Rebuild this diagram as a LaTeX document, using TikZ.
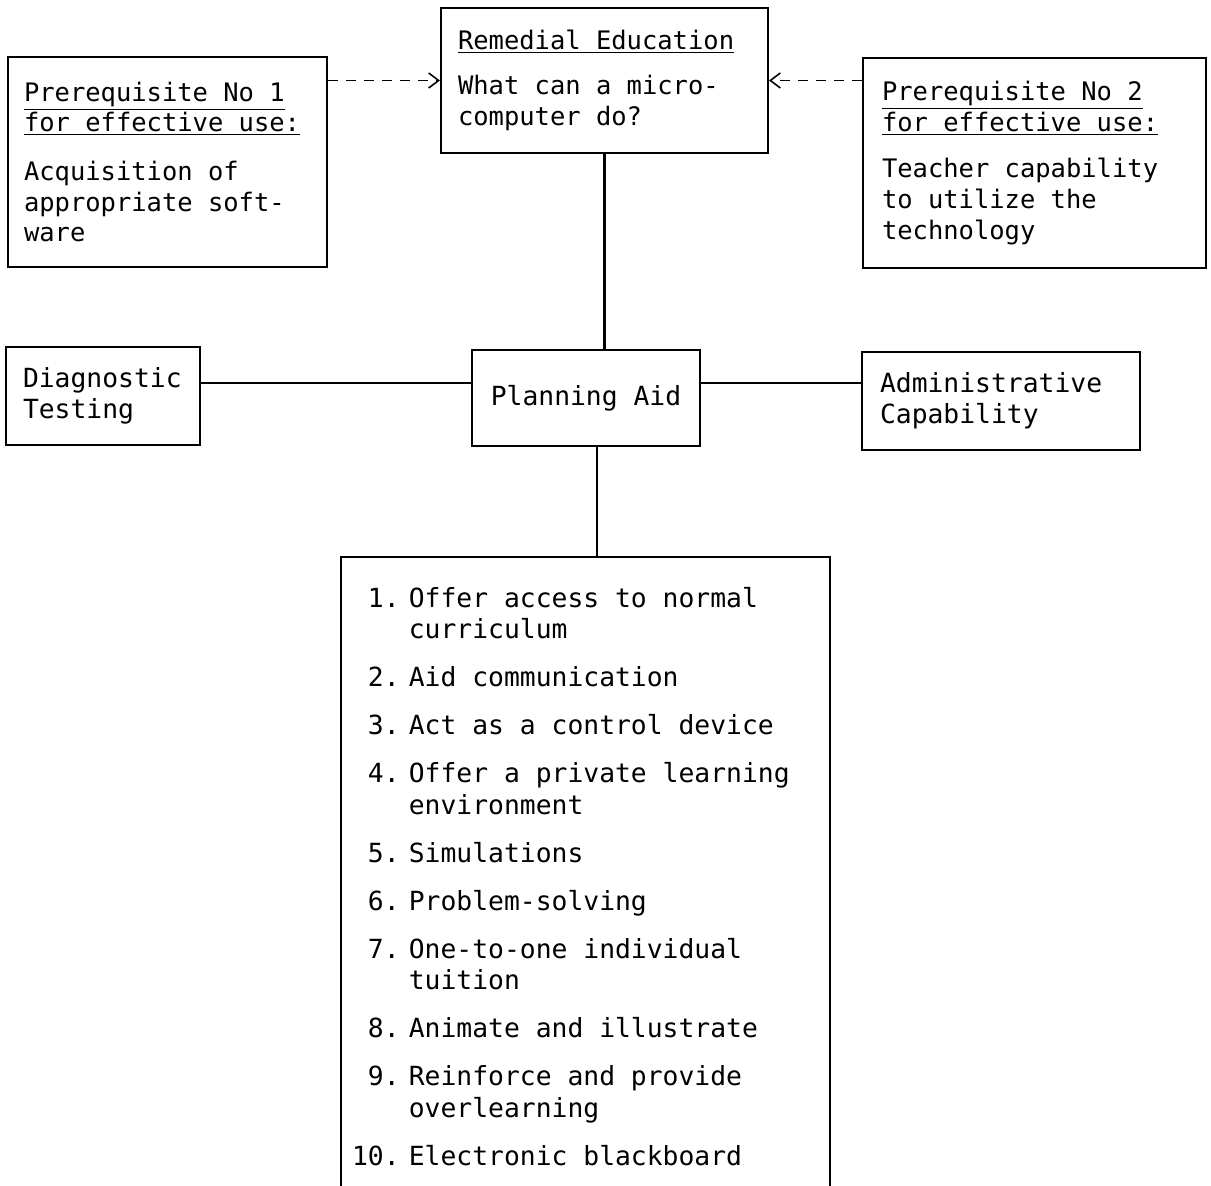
\documentclass[tikz,border=0pt]{standalone}
\usepackage{fontspec}
\setmainfont{DejaVu Sans Mono}[WordSpace={1,0,0}]
\usetikzlibrary{arrows.meta}

\begin{document}
\begin{tikzpicture}[x=0.02cm, y=-0.02cm,
  box/.style={draw, rectangle, line width=1.2pt, inner ysep=0pt, align=left,
    execute at begin node={\spaceskip=0.602em\relax}},
  small/.style={font=\fontsize{14.5}{17.5}\selectfont},
  big/.style={font=\fontsize{15}{17.5}\selectfont},
  link/.style={line width=1.2pt},
  dashlink/.style={line width=0.9pt, dash pattern=on 0.2cm off 0.16cm,
    -{Straight Barb[length=0.2cm,width=0.3cm]}}]
\useasboundingbox (0,0) rectangle (1211,1186);

\node[box, small, text width=5.74cm, inner xsep=0.32cm, minimum height=4.2cm] (P1) at (167.5,162)
{\underline{Prerequisite No 1}\\ \underline{for effective use:}\\[10pt] Acquisition of\\ appropriate soft-\\ ware};%
\node[box, small, text width=5.86cm, inner xsep=0.34cm, minimum height=2.9cm] (RE) at (604.5,80.5)
{\underline{Remedial Education}\\[8pt] What can a micro-\\ computer do?};%
\node[box, small, text width=6.1cm, inner xsep=0.38cm, minimum height=4.2cm] (P2) at (1034.5,163)
{\underline{Prerequisite No 2}\\ \underline{for effective use:}\\[9pt] Teacher capability\\ to utilize the\\ technology};%
\node[box, big, text width=3.2cm, inner xsep=0.34cm, minimum height=1.96cm] (DT) at (103,396)
{Diagnostic\\ Testing};%
\node[box, big, align=center, minimum width=4.56cm, minimum height=1.92cm] (PA) at (586,398)
{Planning Aid};%
\node[box, big, text width=4.84cm, inner xsep=0.36cm, minimum height=1.96cm] (AC) at (1001,401)
{Administrative\\ Capability};%
\node[box, font=\fontsize{15}{18}\selectfont, text width=9.34cm, inner xsep=0.22cm, inner ysep=0.56cm, anchor=north] (LB) at (585.5,556)
{\begin{tabular}{@{}r@{\hspace{0.35em}}l@{}}
1. & Offer access to normal\\ & curriculum\\[9.3pt]
2. & Aid communication\\[9.3pt]
3. & Act as a control device\\[9.3pt]
4. & Offer a private learning\\ & environment\\[9.3pt]
5. & Simulations\\[9.3pt]
6. & Problem-solving\\[9.3pt]
7. & One-to-one individual\\ & tuition\\[9.3pt]
8. & Animate and illustrate\\[9.3pt]
9. & Reinforce and provide\\ & overlearning\\[9.3pt]
10. & Electronic blackboard
\end{tabular}};%

\draw[dashlink] (RE.west -| P1.east) -- (RE.west);%
\draw[dashlink] (RE.east -| P2.west) -- (RE.east);%
\draw[link] (RE.south) -- (RE.south |- PA.north);%
\draw[link] ([yshift=0.26cm]DT.east) -- ([yshift=0.26cm]DT.east -| PA.west);%
\draw[link] ([yshift=0.3cm]PA.east) -- ([yshift=0.3cm]PA.east -| AC.west);%
\draw[link] ([xshift=0.22cm]PA.south) -- ([xshift=0.22cm]PA.south |- LB.north);%
\end{tikzpicture}
\end{document}
